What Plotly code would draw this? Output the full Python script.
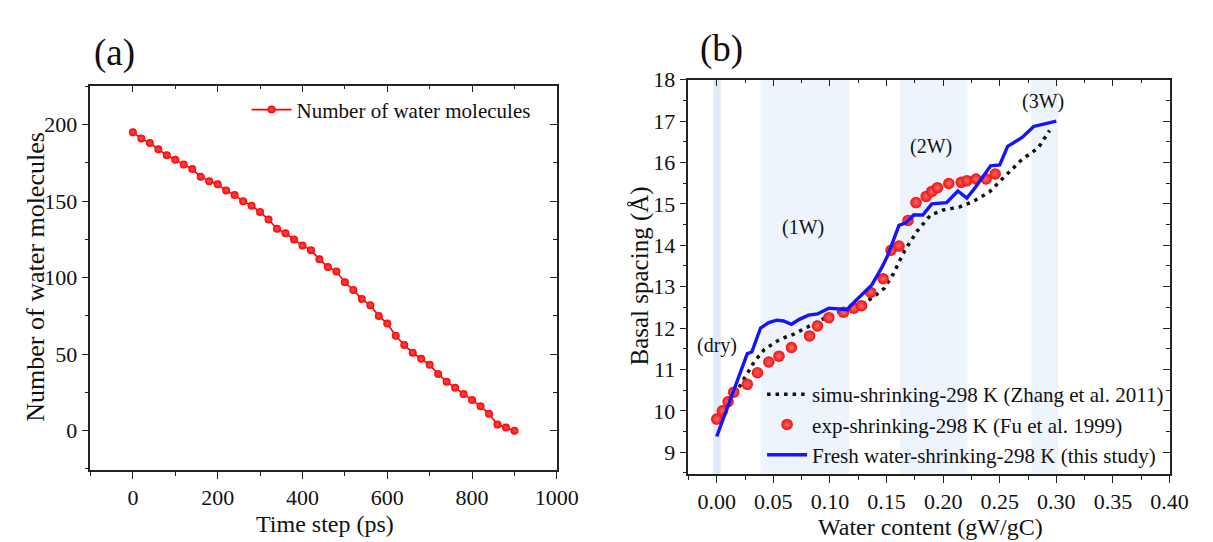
import plotly.graph_objects as go

W, H = 1213, 542
FONT = "Liberation Serif, Times New Roman, serif"

# ---------------- data: panel (a) ----------------
time_ps = [0, 20, 40, 60, 80, 100, 120, 140, 160, 180, 200, 220, 240, 260, 280, 300,
           320, 340, 360, 380, 400, 420, 440, 460, 480, 500, 520, 540, 560, 580, 600,
           620, 640, 660, 680, 700, 720, 740, 760, 780, 800, 820, 840, 860, 880, 900]
n_water = [195, 191, 188, 184, 180, 177, 174, 171, 166, 163, 161, 157, 154, 150, 147, 143,
           138, 132, 129, 125, 121, 118, 112, 107, 104, 97, 92, 86, 82, 75, 70,
           62, 56, 51, 47, 43, 37, 32, 28, 24, 20, 16, 11, 4, 2, 0]

# ---------------- data: panel (b) ----------------
simu_x = [0.016, 0.024, 0.033, 0.042, 0.056, 0.068, 0.082, 0.096, 0.111, 0.125, 0.137, 0.148,
          0.156, 0.166, 0.177, 0.189, 0.200, 0.215, 0.226, 0.241, 0.255, 0.270, 0.284, 0.294]
simu_y = [10.39, 10.78, 11.18, 11.48, 11.73, 11.85, 12.05, 12.25, 12.41, 12.52, 12.72, 12.96,
          13.31, 13.87, 14.34, 14.73, 14.85, 14.93, 15.05, 15.29, 15.68, 16.08, 16.35, 16.77]

exp_x = [0.000, 0.005, 0.010, 0.015, 0.027, 0.036, 0.046, 0.055, 0.066, 0.082, 0.089, 0.099,
         0.112, 0.121, 0.128, 0.136, 0.147, 0.154, 0.161, 0.169, 0.176, 0.185, 0.190, 0.195,
         0.205, 0.216, 0.221, 0.229, 0.238, 0.246]
exp_y = [9.80, 10.00, 10.22, 10.45, 10.64, 10.92, 11.18, 11.32, 11.53, 11.81, 12.05, 12.25,
         12.38, 12.48, 12.54, 12.86, 13.19, 13.88, 13.98, 14.60, 15.03, 15.18, 15.30, 15.39,
         15.49, 15.52, 15.56, 15.60, 15.60, 15.72]

fresh_x = [0.000, 0.027, 0.031, 0.0387, 0.046, 0.053, 0.059, 0.066, 0.073, 0.081, 0.089, 0.099,
           0.108, 0.115, 0.122, 0.137, 0.146, 0.151, 0.161, 0.167, 0.174, 0.182, 0.190, 0.203,
           0.213, 0.221, 0.229, 0.242, 0.250, 0.257, 0.270, 0.280, 0.300]
fresh_y = [9.38, 11.38, 11.42, 12.00, 12.13, 12.19, 12.17, 12.09, 12.21, 12.31, 12.34, 12.48,
           12.46, 12.44, 12.64, 13.04, 13.47, 13.75, 14.48, 14.54, 14.73, 14.73, 15.00, 15.03,
           15.31, 15.14, 15.42, 15.92, 15.94, 16.39, 16.61, 16.87, 17.00]

# shaded hydration-state bands (x start, x end) and labels
band_x0 = [-0.003, 0.0387, 0.162, 0.278]
band_x1 = [0.0035, 0.117, 0.2215, 0.3016]
band_colors = ["#dfe9f8", "#eef4fc", "#eef4fc", "#eef4fc"]
state_labels = ["(dry)", "(1W)", "(2W)", "(3W)"]
label_x = [0.0, 0.076, 0.189, 0.2885]
label_y = [11.58, 14.43, 16.39, 17.46]

xa_ticks = [0, 200, 400, 600, 800, 1000]
ya_ticks = [0, 50, 100, 150, 200]
xb_ticks = [0.00, 0.05, 0.10, 0.15, 0.20, 0.25, 0.30, 0.35, 0.40]
yb_ticks = [9, 10, 11, 12, 13, 14, 15, 16, 17, 18]

# ---------------- geometry (pixels) ----------------
ax_l, ax_r, ax_t, ax_b = 84, 559, 67, 460
bx_l, bx_r, bx_t, bx_b = 693, 1183, 61, 464


def px(x):
    return x / W


def py(y):
    return 1 - y / H


fig = go.Figure()

fig.add_trace(go.Scatter(
    x=time_ps, y=n_water, mode="lines+markers", name="Number of water molecules",
    line=dict(color="#ff0000", width=1.6),
    marker=dict(color="#ff0000", size=8, symbol="circle",
                gradient=dict(type="radial", color="#ff5050")),
    xaxis="x", yaxis="y", legend="legend"))

fig.add_trace(go.Scatter(
    x=simu_x, y=simu_y, mode="lines", name="simu-shrinking-298 K (Zhang et al. 2011)",
    line=dict(color="#111111", width=3.5, dash="3.5px,5px"),
    xaxis="x2", yaxis="y2", legend="legend2"))
fig.add_trace(go.Scatter(
    x=exp_x, y=exp_y, mode="markers", name="exp-shrinking-298 K (Fu et al. 1999)",
    marker=dict(color="#f01010", size=11.5, symbol="circle",
                gradient=dict(type="radial", color="#ff6a6a")),
    xaxis="x2", yaxis="y2", legend="legend2"))
fig.add_trace(go.Scatter(
    x=fresh_x, y=fresh_y, mode="lines", name="Fresh water-shrinking-298 K (this study)",
    line=dict(color="#1414ff", width=3.4),
    xaxis="x2", yaxis="y2", legend="legend2"))

# invisible traces for the mirrored (inward-tick) top/right axes
fig.add_trace(go.Scatter(x=[None], y=[None], xaxis="x3", yaxis="y3", showlegend=False, hoverinfo="skip"))
fig.add_trace(go.Scatter(x=[None], y=[None], xaxis="x4", yaxis="y4", showlegend=False, hoverinfo="skip"))

tickfont = dict(family=FONT, size=22, color="#111111")
line_c = "#222222"

common = dict(showgrid=False, zeroline=False, showline=True, linecolor=line_c, linewidth=1.6,
              tickcolor=line_c, tickwidth=1.4, tickfont=tickfont)

xa_range = [-100, 1000]
ya_range = [-25.6, 225.6]
xb_range = [-0.025, 0.40]
yb_range = [8.48, 18.0]

fig.update_layout(
    width=W, height=H, margin=dict(l=0, r=0, t=0, b=0),
    paper_bgcolor="white", plot_bgcolor="white",
    xaxis=dict(domain=[px(ax_l), px(ax_r)], range=xa_range, anchor="y",
               tickmode="array", tickvals=xa_ticks, ticks="outside", ticklen=7,
               minor=dict(dtick=100, tick0=0, ticks="outside", ticklen=4, tickcolor=line_c),
               **common),
    yaxis=dict(domain=[py(ax_b), py(ax_t)], range=ya_range, anchor="x",
               tickmode="array", tickvals=ya_ticks, ticks="outside", ticklen=7,
               minor=dict(dtick=25, tick0=0, ticks="outside", ticklen=4, tickcolor=line_c),
               **common),
    xaxis3=dict(domain=[px(ax_l), px(ax_r)], range=xa_range, anchor="y3", overlaying="x", side="top",
                tickmode="array", tickvals=xa_ticks, ticks="inside", ticklen=7, showticklabels=False,
                minor=dict(dtick=100, tick0=0, ticks="inside", ticklen=4, tickcolor=line_c),
                **common),
    yaxis3=dict(domain=[py(ax_b), py(ax_t)], range=ya_range, anchor="x3", overlaying="y", side="right",
                tickmode="array", tickvals=ya_ticks, ticks="inside", ticklen=7, showticklabels=False,
                minor=dict(dtick=25, tick0=0, ticks="inside", ticklen=4, tickcolor=line_c),
                **common),
    xaxis2=dict(domain=[px(bx_l), px(bx_r)], range=xb_range, anchor="y2",
                tickmode="array", tickvals=xb_ticks, ticktext=[f"{v:.2f}" for v in xb_ticks],
                ticks="outside", ticklen=7,
                minor=dict(dtick=0.025, tick0=0, ticks="outside", ticklen=4, tickcolor=line_c),
                **common),
    yaxis2=dict(domain=[py(bx_b), py(bx_t)], range=yb_range, anchor="x2",
                tickmode="array", tickvals=yb_ticks, ticks="outside", ticklen=7,
                minor=dict(dtick=0.5, tick0=0, ticks="outside", ticklen=4, tickcolor=line_c),
                **common),
    xaxis4=dict(domain=[px(bx_l), px(bx_r)], range=xb_range, anchor="y4", overlaying="x2", side="top",
                tickmode="array", tickvals=xb_ticks, ticks="inside", ticklen=7, showticklabels=False,
                minor=dict(dtick=0.025, tick0=0, ticks="inside", ticklen=4, tickcolor=line_c),
                **common),
    yaxis4=dict(domain=[py(bx_b), py(bx_t)], range=yb_range, anchor="x4", overlaying="y2", side="right",
                tickmode="array", tickvals=yb_ticks, ticks="inside", ticklen=7, showticklabels=False,
                minor=dict(dtick=0.5, tick0=0, ticks="inside", ticklen=4, tickcolor=line_c),
                **common),
    legend=dict(x=px(243), y=py(71), xanchor="left", yanchor="top",
                font=dict(family=FONT, size=21, color="#111111"), bgcolor="rgba(0,0,0,0)",
                itemwidth=40),
    legend2=dict(x=px(768), y=py(362), xanchor="left", yanchor="top",
                 font=dict(family=FONT, size=21, color="#111111"), bgcolor="rgba(0,0,0,0)",
                 itemwidth=40, tracegroupgap=0),
    showlegend=True,
)

# shaded bands
for x0, x1, c in zip(band_x0, band_x1, band_colors):
    fig.add_shape(type="rect", xref="x2", yref="y2 domain", x0=x0, x1=x1, y0=0, y1=1,
                  fillcolor=c, line=dict(width=0), layer="below")

# state labels
for t, lx, ly in zip(state_labels, label_x, label_y):
    fig.add_annotation(x=lx, y=ly, xref="x2", yref="y2", text=t, showarrow=False,
                       font=dict(family=FONT, size=20, color="#111111"))

# panel labels and axis titles
ann = [
    ("(a)", 108, 34, 37, 0),
    ("(b)", 727, 30, 37, 0),
    ("Time step (ps)", 323, 515, 24, 0),
    ("Water content (gW/gC)", 940, 518, 24, 0),
    ("Number of water molecules", 28, 262, 26, -90),
    ("Basal spacing (Å)", 644, 262, 25, -90),
]
for t, x, y, s, rot in ann:
    fig.add_annotation(x=px(x), y=py(y), xref="paper", yref="paper", text=t, showarrow=False,
                       textangle=rot, xanchor="center", yanchor="middle",
                       font=dict(family=FONT, size=s, color="#111111"))

fig.write_html("out.html")
